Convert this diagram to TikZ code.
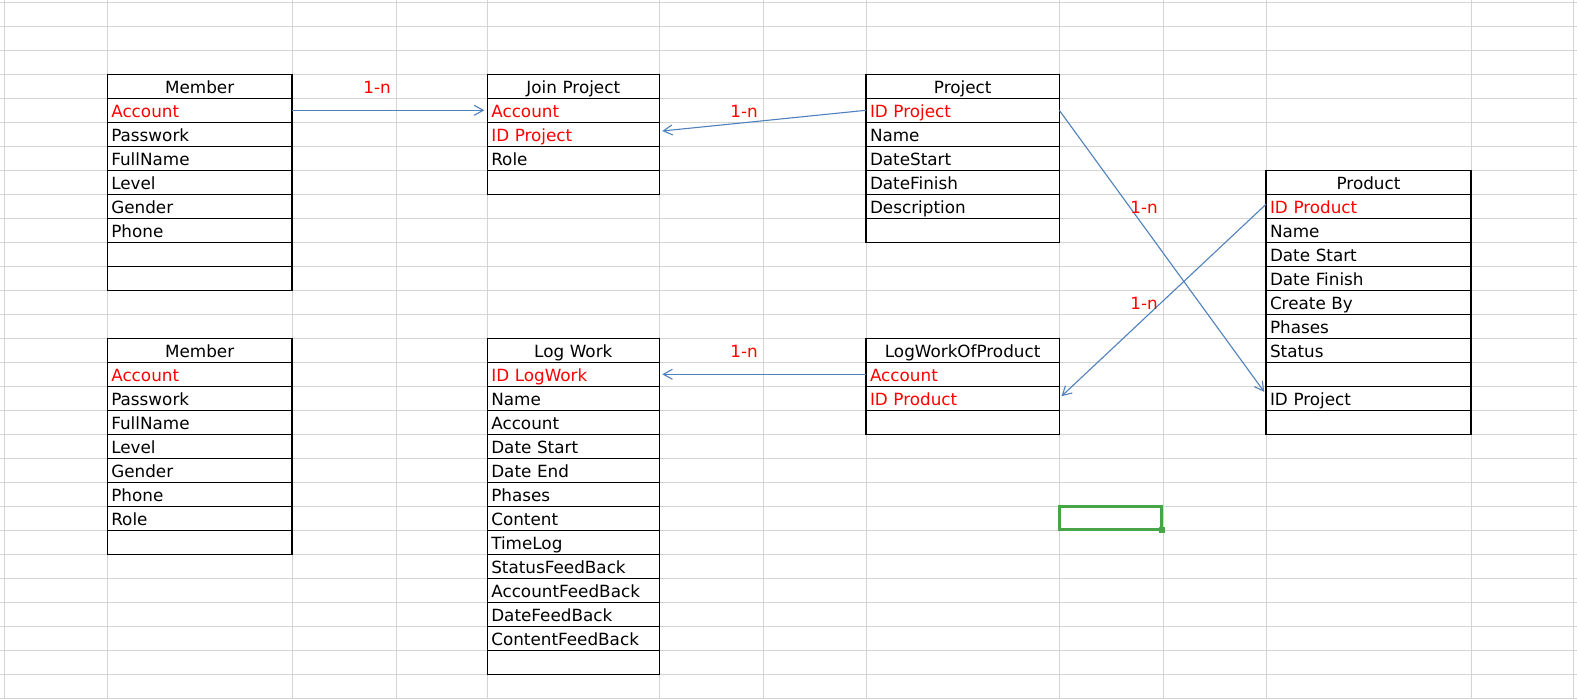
\documentclass[tikz,border=0pt]{standalone}
\usepackage{fontspec}
\setmainfont{DejaVu Sans}
\usetikzlibrary{arrows.meta}

\definecolor{gridgray}{RGB}{212,212,212}
\definecolor{linkblue}{RGB}{79,129,189}
\definecolor{selgreen}{RGB}{70,165,70}

% name, x, y, width, header, colour/field list
\newcommand{\dbtable}[6]{%
    \pgfmathsetmacro{\tw}{#4-8}
    \node[headcell, text width=\tw pt] (#1-0) at (#2, #3) {#5};
    \foreach \fcol/\ftext [count=\i] in {#6} {
        \node[fieldcell, text width=\tw pt, text=\fcol] (#1-\i) at (#2, {#3+24*\i}) {\ftext};
    }
}

\begin{document}
\begin{tikzpicture}[
        x = 1pt, y = -1pt,
        font = \fontsize{16.8}{20}\selectfont,
        gridline/.style = {gridgray, line width=1pt},
        cell/.style = {draw, line width=1.2pt, anchor=north west, outer sep=0pt,
            inner xsep=4pt, inner ysep=0pt, minimum height=24pt,
            text height=15pt, text depth=1pt},
        headcell/.style = {cell, align=center},
        fieldcell/.style = {cell, align=left},
        link/.style = {linkblue, line width=1.1pt, shorten >=3pt,
            -{Straight Barb[length=9pt, width=10pt]}},
        card/.style = {red, anchor=base east, inner sep=0pt}
    ]

    \useasboundingbox (0, 0) rectangle (1577, 699);
    \fill[white] (0, 0) rectangle (1577, 699);

    % sheet grid
    \foreach \gx in {4.3, 107.3, 292, 396, 487.3, 659.3, 763, 866, 1059.3, 1163, 1266, 1471, 1573.3} {
        \draw[gridline] (\gx, 0) -- (\gx, 699);
    }
    \foreach \k in {0, 1, ..., 29} {
        \draw[gridline] (0, {2.3+24*\k}) -- (1577, {2.3+24*\k});
    }

    \dbtable{member}{107.3}{74.3}{184.7}{Member}{red/Account, black/Passwork, black/FullName, black/Level, black/Gender, black/Phone, black/, black/}
    \dbtable{join}{487.3}{74.3}{172}{Join Project}{red/Account, red/ID Project, black/Role, black/}
    \dbtable{project}{866}{74.3}{193.3}{Project}{red/ID Project, black/Name, black/DateStart, black/DateFinish, black/Description, black/}
    \dbtable{product}{1266}{170.3}{205}{Product}{red/ID Product, black/Name, black/Date Start, black/Date Finish, black/Create By, black/Phases, black/Status, black/, black/ID Project, black/}
    \dbtable{memberrole}{107.3}{338.3}{184.7}{Member}{red/Account, black/Passwork, black/FullName, black/Level, black/Gender, black/Phone, black/Role, black/}
    \dbtable{logwork}{487.3}{338.3}{172}{Log Work}{red/ID LogWork, black/Name, black/Account, black/Date Start, black/Date End, black/Phases, black/Content, black/TimeLog, black/StatusFeedBack, black/AccountFeedBack, black/DateFeedBack, black/ContentFeedBack, black/}
    \dbtable{lwproduct}{866}{338.3}{193.3}{LogWorkOfProduct}{red/Account, red/ID Product, black/}

    % selected cell
    \draw[selgreen, line width=3pt] (1059.8, 506.8) rectangle (1161.5, 529.8);
    \fill[selgreen] (1159.3, 527) rectangle (1165, 532.7);

    \draw[link] (member-1.east) -- (join-1.west);
    \draw[link] (project-1.west) -- ([yshift=3pt]join-2.east);
    \draw[link] (project-1.east) -- ([yshift=4pt]product-9.west);
    \draw[link] ([yshift=2pt]product-1.west) -- (lwproduct-2.east);
    \draw[link] (lwproduct-1.west) -- (logwork-1.east);

    \node[card] (card1) at (391, 93.3) {1-n};
    \node[card] (card2) at (758, 117.3) {1-n};
    \node[card] (card3) at (1158, 213.3) {1-n};
    \node[card] (card4) at (1158, 309.3) {1-n};
    \node[card] (card5) at (758, 357.3) {1-n};

\end{tikzpicture}
\end{document}
